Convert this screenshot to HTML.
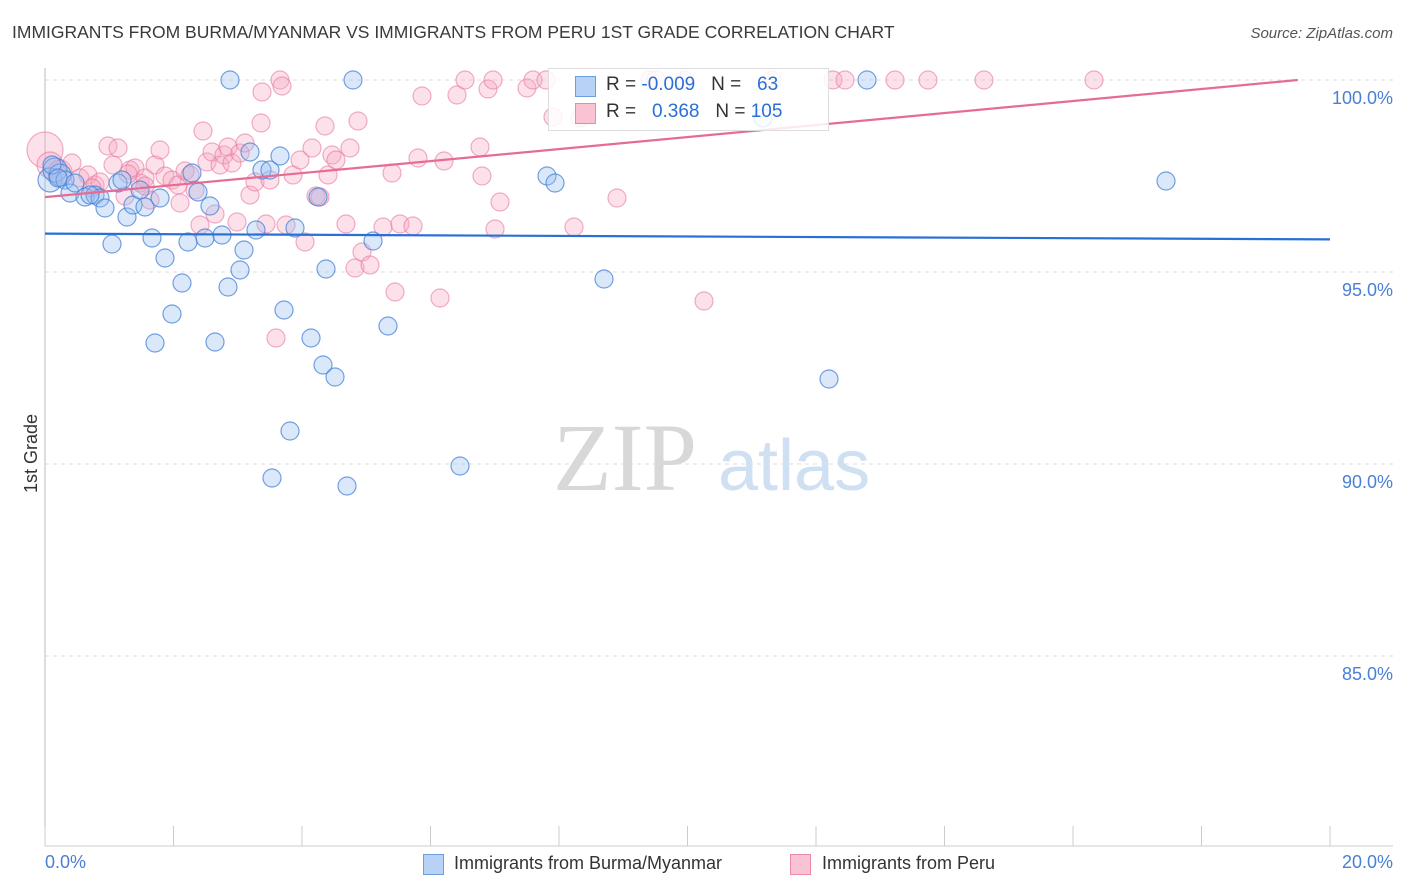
<!DOCTYPE html>
<html><head><meta charset="utf-8"><style>
body{margin:0;background:#fff;font-family:"Liberation Sans",sans-serif;}
#wrap{position:relative;width:1406px;height:892px;overflow:hidden;}
.t{position:absolute;white-space:nowrap;}
</style></head><body>
<div id="wrap">
<div class="t" style="left:12px;top:22px;font-size:17.5px;color:#3a3a3a;">IMMIGRANTS FROM BURMA/MYANMAR VS IMMIGRANTS FROM PERU 1ST GRADE CORRELATION CHART</div>
<div class="t" style="right:13px;top:25px;font-size:15px;color:#555;font-style:italic;">Source: ZipAtlas.com</div>
<svg id="svg" width="1406" height="892" style="position:absolute;left:0;top:0"></svg>
</div>
<script>
const blueX=[230,353,867,50,55,60,65,70,85,95,100,105,112,118,122,127,133,140,145,152,160,165,172,182,155,188,192,198,205,210,215,222,228,240,244,250,256,262,270,272,280,284,290,295,311,318,323,326,335,347,373,388,460,547,555,604,763,829,1166,52,58,75,90].map(p=>(p-45)*20/1285);
const blueY=[80,80,80,180,170,175,180,193,197,195,198,208,244,183,180,217,205,190,207,238,198,258,314,283,343,242,173,192,238,206,342,235,287,270,250,152,230,170,170,478,156,310,431,228,338,197,365,269,377,486,241,326,466,176,183,279,118,379,181,165,178,183,195].map(p=>100-(p-80)*5/192);
const pinkX=[45,50,60,72,80,88,95,100,108,113,118,125,130,135,140,145,150,155,160,165,172,178,180,185,190,195,200,203,207,212,215,220,224,228,232,237,240,245,250,255,261,266,270,276,280,282,286,293,300,305,312,316,320,325,328,332,336,346,350,355,358,362,370,383,395,392,400,413,418,422,440,444,457,465,480,482,488,493,495,500,527,533,546,553,574,580,617,650,656,684,704,772,833,845,895,928,984,1094,262,145,92,128].map(p=>(p-45)*20/1285);
const pinkY=[150,165,172,163,178,175,185,182,146,165,148,196,170,168,183,178,200,165,150,176,180,185,203,171,175,190,225,131,162,152,214,165,155,147,163,222,153,143,195,182,123,224,180,338,80,86,225,175,160,242,148,196,197,126,175,155,160,224,148,268,121,252,265,227,292,173,224,226,158,96,298,161,95,80,147,176,89,80,229,202,88,80,80,117,227,118,198,80,80,80,301,80,80,80,80,80,80,80,92,186,188,174].map(p=>100-(p-80)*5/192);
const pinkR=[18,13,12];
const blueR=[9,9,9,12,12,11];
const yTicks=[100,95,90,85];
const yTickLabels=["100.0%","95.0%","90.0%","85.0%"];
const blueTrend=[[0,96.0],[20,95.85]];
const pinkTrend=[[0,96.95],[19.5,100]];
const X0=45,X1=1330,Ytop=80,Ppx=192/5;
const sx=v=>X0+v*(X1-X0)/20;
const sy=v=>Ytop+(100-v)*Ppx;
const svg=document.getElementById('svg');
const NS='http://www.w3.org/2000/svg';
function mk(tag,attrs,name){const e=document.createElementNS(NS,tag);for(const k in attrs)e.setAttribute(k,attrs[k]);


svg.appendChild(e);return e;}
yTicks.forEach((v,i)=>{mk('line',{x1:X0,x2:1393,y1:sy(v),y2:sy(v),stroke:'#ddd','stroke-dasharray':'4,4'},'gridline');
const t=mk('text',{x:1393,y:sy(v)+24,'text-anchor':'end','font-size':18,fill:'#4a7fd6','font-family':'Liberation Sans'},'y-tick-label');t.textContent=yTickLabels[i];});
mk('line',{x1:X0,x2:X0,y1:68,y2:846,stroke:'#bbb'},'y-axis-line');
mk('line',{x1:X0,x2:1393,y1:846,y2:846,stroke:'#ccc'},'x-axis-line');
for(let i=0;i<=10;i++){mk('line',{x1:sx(i*2),x2:sx(i*2),y1:826,y2:846,stroke:'#ccc'},'x-tick');}
const w1=mk('text',{x:553,y:490,'font-size':96,fill:'#d8d8d8','font-family':'Liberation Serif'},'watermark-zip');w1.textContent='ZIP';
const w2=mk('text',{x:718,y:490,'font-size':72,fill:'#cfe0f3','font-family':'Liberation Sans'},'watermark-atlas');w2.textContent='atlas';
pinkX.forEach((x,i)=>mk('circle',{cx:sx(x),cy:sy(pinkY[i]),r:pinkR[i]||9,fill:'rgba(246,170,195,0.35)',stroke:'rgba(232,120,160,0.6)','stroke-width':1.2},'pink-point'));
blueX.forEach((x,i)=>mk('circle',{cx:sx(x),cy:sy(blueY[i]),r:blueR[i]||9,fill:'rgba(150,190,240,0.35)',stroke:'rgba(70,130,215,0.75)','stroke-width':1.2},'blue-point'));
mk('line',{x1:sx(blueTrend[0][0]),y1:sy(blueTrend[0][1]),x2:sx(blueTrend[1][0]),y2:sy(blueTrend[1][1]),stroke:'#2a6fd6','stroke-width':2.2},'blue-trend-line');
mk('line',{x1:sx(pinkTrend[0][0]),y1:sy(pinkTrend[0][1]),x2:sx(pinkTrend[1][0]),y2:sy(pinkTrend[1][1]),stroke:'#e66c94','stroke-width':2.2},'pink-trend-line');
</script>
<div class="t" style="left:548px;top:68px;width:279px;height:61px;border:1px solid #ddd;background:rgba(255,255,255,0.85);"></div>
<div class="t" style="left:575px;top:76px;width:19px;height:19px;background:#b8d2f5;border:1px solid #6a9ee0;"></div>
<div class="t" style="left:575px;top:103px;width:19px;height:19px;background:#f9c3d3;border:1px solid #e88aa8;"></div>
<div class="t" style="left:606px;top:74px;font-size:19px;color:#333;">R = <span style="color:#2a6fd6">-0.009</span>&nbsp;&nbsp;&nbsp;N = &nbsp;&nbsp;<span style="color:#2a6fd6">63</span></div>
<div class="t" style="left:606px;top:101px;font-size:19px;color:#333;">R = &nbsp;&nbsp;<span style="color:#2a6fd6">0.368</span>&nbsp;&nbsp;&nbsp;N = <span style="color:#2a6fd6">105</span></div>
<div class="t" style="left:-8px;top:443px;font-size:18px;color:#333;transform:rotate(-90deg);">1st Grade</div>
<div class="t" style="left:45px;top:852px;font-size:18px;color:#4a7fd6;">0.0%</div>
<div class="t" style="right:13px;top:852px;font-size:18px;color:#4a7fd6;">20.0%</div>
<div class="t" style="left:423px;top:854px;width:19px;height:19px;background:#b8d2f5;border:1px solid #6a9ee0;"></div>
<div class="t" style="left:454px;top:853px;font-size:18px;color:#333;">Immigrants from Burma/Myanmar</div>
<div class="t" style="left:790px;top:854px;width:19px;height:19px;background:#f9c3d3;border:1px solid #e88aa8;"></div>
<div class="t" style="left:822px;top:853px;font-size:18px;color:#333;">Immigrants from Peru</div>
</body></html>
